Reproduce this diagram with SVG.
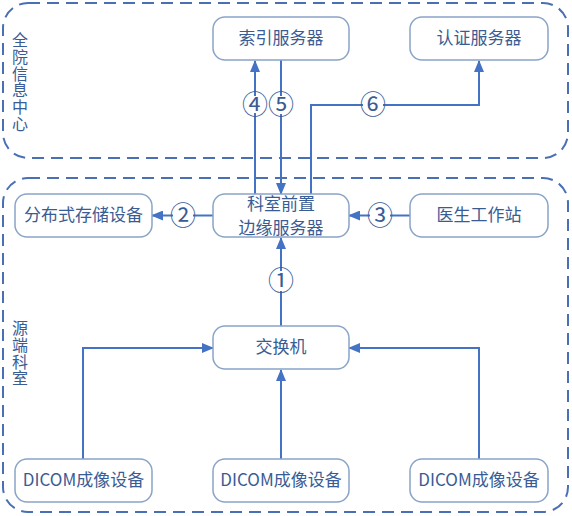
<svg xmlns="http://www.w3.org/2000/svg" width="572" height="516" viewBox="0 0 572 516">
<defs>
<style>
.zone{fill:none;stroke:#4A6FB5;stroke-width:2;stroke-dasharray:12 7}
.box{fill:#fff;stroke:#8AA4C8;stroke-width:1.5}
.t{font-family:"Noto Sans CJK SC","Liberation Sans",sans-serif;font-size:17px;fill:#3A5C94;text-anchor:middle}
.v{font-family:"Noto Sans CJK SC","Liberation Sans",sans-serif;font-size:16px;fill:#3A5C94;writing-mode:vertical-rl;letter-spacing:0.8px}
.n{font-family:"Noto Sans CJK SC","DejaVu Sans",sans-serif;font-size:26px;fill:#3A5C94;text-anchor:middle}
.c{fill:none;stroke:#4472C4;stroke-width:2}
</style>
<marker id="ah" markerWidth="12" markerHeight="10" refX="11" refY="5" orient="auto" markerUnits="userSpaceOnUse">
<path d="M0,0 L12,5 L0,10 Z" fill="#4472C4"/>
</marker>
</defs>
<rect width="572" height="516" fill="#fff"/>
<g id="zone-center">
<rect class="zone" x="3" y="3" width="565" height="155" rx="25"/>
<text class="v" x="20" y="32">全院信息中心</text>
</g>
<g id="zone-dept">
<rect class="zone" x="3" y="178" width="565" height="334" rx="25"/>
<text class="v" x="20" y="320">源端科室</text>
</g>
<g id="connectors">
<path class="c" d="M255 194 V113"/>
<path class="c" d="M255 96 V61" marker-end="url(#ah)"/>
<path class="c" d="M281 60 V96"/>
<path class="c" d="M281 114 V194" marker-end="url(#ah)"/>
<path class="c" d="M311 194 V105 H363"/>
<path class="c" d="M383 105 H479 V61" marker-end="url(#ah)"/>
<path class="c" d="M213 215.5 H193"/>
<path class="c" d="M173 215.5 H152" marker-end="url(#ah)"/>
<path class="c" d="M410 215.5 H390"/>
<path class="c" d="M370 215.5 H349" marker-end="url(#ah)"/>
<path class="c" d="M281 326 V291"/>
<path class="c" d="M281 271 V238" marker-end="url(#ah)"/>
<path class="c" d="M83 459 V348 H213" marker-end="url(#ah)"/>
<path class="c" d="M281 459 V370" marker-end="url(#ah)"/>
<path class="c" d="M479 459 V348 H349" marker-end="url(#ah)"/>
<text class="n" x="255" y="114">④</text>
<text class="n" x="281" y="114">⑤</text>
<text class="n" x="373" y="114">⑥</text>
<text class="n" x="183" y="225">②</text>
<text class="n" x="380" y="225">③</text>
<text class="n" x="281" y="290">①</text>
</g>
<g id="index-server">
<rect class="box" x="213" y="17" width="136" height="43" rx="12"/>
<text class="t" x="281" y="44">索引服务器</text>
</g>
<g id="auth-server">
<rect class="box" x="410" y="17" width="138" height="43" rx="12"/>
<text class="t" x="479" y="44">认证服务器</text>
</g>
<g id="storage">
<rect class="box" x="15" y="194" width="137" height="43" rx="12"/>
<text class="t" x="83.5" y="221">分布式存储设备</text>
</g>
<g id="edge-server">
<rect class="box" x="213" y="194" width="136" height="43" rx="12"/>
<text class="t" x="281" y="210">科室前置</text>
<text class="t" x="281" y="234">边缘服务器</text>
</g>
<g id="workstation">
<rect class="box" x="410" y="194" width="138" height="43" rx="12"/>
<text class="t" x="479" y="221">医生工作站</text>
</g>
<g id="switch">
<rect class="box" x="213" y="326" width="136" height="43" rx="12"/>
<text class="t" x="281" y="353">交换机</text>
</g>
<g id="dicom-1">
<rect class="box" x="15" y="459" width="137" height="43" rx="12"/>
<text class="t" x="83.5" y="486">DICOM成像设备</text>
</g>
<g id="dicom-2">
<rect class="box" x="213" y="459" width="136" height="43" rx="12"/>
<text class="t" x="281" y="486">DICOM成像设备</text>
</g>
<g id="dicom-3">
<rect class="box" x="410" y="459" width="138" height="43" rx="12"/>
<text class="t" x="479" y="486">DICOM成像设备</text>
</g>
</svg>
